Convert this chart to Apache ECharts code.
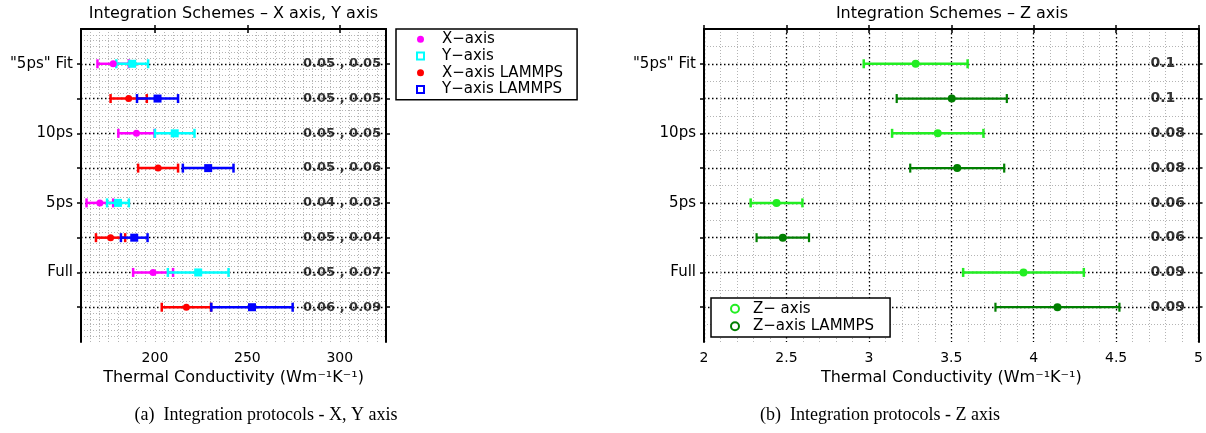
<!DOCTYPE html>
<html>
<head>
<meta charset="utf-8">
<script src="https://cdn.jsdelivr.net/npm/echarts@6/dist/echarts.min.js"></script>
<style>
  html, body { margin: 0; padding: 0; background: #fff; }
  #main { width: 1206px; height: 433px; }
</style>
</head>
<body>
<div id="main"></div>
<script>
// rows are counted from the top, 1..8
var rowNames = ['"5ps" Fit', '', '10ps', '', '5ps', '', 'Full', ''];
var ownRows = [1, 3, 5, 7];
var lmpRows = [2, 4, 6, 8];
var allRows = [1, 2, 3, 4, 5, 6, 7, 8];

// panel (a): X / Y axis, mean and error
var xMean = [177.4, 190.0, 170.2, 199.0];
var xErr = [8.5, 9.8, 7.2, 10.8];
var yMean = [187.7, 210.7, 180.0, 223.4];
var yErr = [8.6, 10.7, 5.9, 16.4];
var xLmpMean = [185.8, 201.7, 176.0, 217.0];
var xLmpErr = [9.8, 10.8, 7.9, 13.3];
var yLmpMean = [201.4, 228.8, 188.8, 252.5];
var yLmpErr = [11.1, 13.7, 7.2, 22.0];
var errTextXY = ['0.05 , 0.05', '0.05 , 0.05', '0.05 , 0.05', '0.05 , 0.06',
                 '0.04 , 0.03', '0.05 , 0.04', '0.05 , 0.07', '0.06 , 0.09'];
var xyTicks = [200, 250, 300];

// panel (b): Z axis
var zMean = [3.284, 3.418, 2.44, 3.938];
var zErr = [0.315, 0.277, 0.157, 0.366];
var zLmpMean = [3.503, 3.536, 2.478, 4.144];
var zLmpErr = [0.334, 0.285, 0.159, 0.376];
var errTextZ = ['0.1', '0.1', '0.08', '0.08', '0.06', '0.06', '0.09', '0.09'];

var FONT = 'DejaVu Sans';
var BLACK_DOT = { color: '#000', width: 1.3, type: [1.5, 2.5] };
var GRAY_DOT = { color: '#b4b4b4', width: 1, type: [1, 2] };
var AXIS_LINE = { show: true, lineStyle: { color: '#000', width: 2 } };
var LIME = '#22ee22';
var DKGREEN = '#007f00';

var chart = echarts.init(document.getElementById('main'));

// horizontal error bar with caps
function errRender(color, lw, cap) {
  return function (params, api) {
    var c = api.value(0), e = api.value(1), r = api.value(2);
    var a = api.coord([c - e, r]);
    var b = api.coord([c + e, r]);
    var st = { stroke: color, lineWidth: lw };
    return {
      type: 'group',
      children: [
        { type: 'line', shape: { x1: a[0], y1: a[1], x2: b[0], y2: b[1] }, style: st },
        { type: 'line', shape: { x1: a[0], y1: a[1] - cap, x2: a[0], y2: a[1] + cap }, style: st },
        { type: 'line', shape: { x1: b[0], y1: b[1] - cap, x2: b[0], y2: b[1] + cap }, style: st }
      ]
    };
  };
}

function errSeries(name, means, errs, rows, color, lw, cap, panel) {
  return {
    name: name, type: 'custom',
    xAxisIndex: panel ? 3 : 0, yAxisIndex: panel ? 2 : 0,
    renderItem: errRender(color, lw, cap),
    encode: { x: 0, y: 2 },
    data: means.map(function (m, i) { return [m, errs[i], rows[i]]; }),
    z: 3, silent: true
  };
}

function dotSeries(name, means, rows, color, symbol, size, panel) {
  return {
    name: name, type: 'scatter',
    xAxisIndex: panel ? 3 : 0, yAxisIndex: panel ? 2 : 0,
    symbol: symbol, symbolSize: size,
    itemStyle: { color: color, opacity: 1 },
    data: means.map(function (m, i) { return [m, rows[i]]; }),
    z: 4, silent: true
  };
}

function textSeries(texts, at, pos, size, panel) {
  return {
    type: 'scatter',
    xAxisIndex: panel ? 3 : 0, yAxisIndex: panel ? 2 : 0,
    symbolSize: 0,
    data: allRows.map(function (r) { return [at, r]; }),
    label: {
      show: true, position: pos, distance: 0,
      fontFamily: FONT, fontWeight: 'bold', fontSize: size, color: '#000',
      formatter: function (p) { return texts[p.dataIndex]; }
    },
    z: 5, silent: true
  };
}

function rowAxis(gi, pos, labels, minorSplit) {
  return {
    type: 'value', gridIndex: gi, position: pos,
    min: 0, max: 9, interval: 1, inverse: true,
    axisLine: AXIS_LINE,
    axisTick: { show: true, length: 4, customValues: allRows, lineStyle: { color: '#000', width: 1.5 } },
    axisLabel: {
      show: labels, margin: 8, fontFamily: FONT, fontSize: 15, color: '#000',
      formatter: function (v) { return (v >= 1 && v <= 8) ? rowNames[v - 1] : ''; }
    },
    splitLine: { show: labels, lineStyle: BLACK_DOT },
    minorTick: { show: false, splitNumber: minorSplit },
    minorSplitLine: { show: labels, lineStyle: GRAY_DOT }
  };
}

var axisName = 'Thermal Conductivity (Wm\u207B\u00B9K\u207B\u00B9)';
var nameStyle = { fontFamily: FONT, fontSize: 16, color: '#000' };

var option = {
  animation: false,
  backgroundColor: '#fff',
  grid: [
    { left: 81, top: 29, width: 305, height: 313 },
    { left: 704, top: 29, width: 496, height: 313 }
  ],
  xAxis: [
    {
      type: 'value', gridIndex: 0, position: 'bottom', min: 160, max: 325,
      axisLine: AXIS_LINE,
      axisTick: { show: true, length: 4, customValues: xyTicks, lineStyle: { color: '#000', width: 1.5 } },
      axisLabel: { customValues: xyTicks, margin: 9, fontFamily: FONT, fontSize: 14, color: '#000' },
      splitLine: { show: false },
      name: axisName, nameLocation: 'middle', nameGap: 21, nameTextStyle: nameStyle
    },
    {
      type: 'value', gridIndex: 0, position: 'top', min: 160, max: 325,
      axisLine: AXIS_LINE,
      axisTick: { show: true, length: 4, customValues: xyTicks, lineStyle: { color: '#000', width: 1.5 } },
      axisLabel: { show: false },
      splitLine: { show: false }
    },
    {
      type: 'value', gridIndex: 0, position: 'bottom', min: 160, max: 325, interval: 5,
      axisLine: { show: false }, axisTick: { show: false }, axisLabel: { show: false },
      splitLine: { show: true, lineStyle: GRAY_DOT }
    },
    {
      type: 'value', gridIndex: 1, position: 'bottom', min: 2, max: 5, interval: 0.5,
      axisLine: AXIS_LINE,
      axisTick: { show: true, length: 4, lineStyle: { color: '#000', width: 1.5 } },
      axisLabel: { margin: 9, fontFamily: FONT, fontSize: 14, color: '#000' },
      splitLine: { show: true, lineStyle: BLACK_DOT },
      minorTick: { show: false, splitNumber: 5 },
      minorSplitLine: { show: true, lineStyle: GRAY_DOT },
      name: axisName, nameLocation: 'middle', nameGap: 21, nameTextStyle: nameStyle
    },
    {
      type: 'value', gridIndex: 1, position: 'top', min: 2, max: 5, interval: 0.5,
      axisLine: AXIS_LINE,
      axisTick: { show: true, length: 4, lineStyle: { color: '#000', width: 1.5 } },
      axisLabel: { show: false },
      splitLine: { show: false }
    }
  ],
  yAxis: [
    rowAxis(0, 'left', true, 6),
    rowAxis(0, 'right', false, 6),
    rowAxis(1, 'left', true, 2),
    rowAxis(1, 'right', false, 2)
  ],
  legend: [
    {
      orient: 'vertical', left: 396, top: 29,
      padding: [2, 14, 2, 20], itemGap: 0, itemWidth: 7, itemHeight: 7,
      backgroundColor: '#fff', borderColor: '#000', borderWidth: 1.5,
      selectedMode: false,
      textStyle: { fontFamily: FONT, fontSize: 15, color: '#000', lineHeight: 16.7, padding: [0, 0, 0, 13] },
      data: [
        { name: 'X\u2212axis', icon: 'circle', itemStyle: { color: '#ff00ff', borderWidth: 0 } },
        { name: 'Y\u2212axis', icon: 'rect', itemStyle: { color: '#fff', borderColor: '#00ffff', borderWidth: 2 } },
        { name: 'X\u2212axis LAMMPS', icon: 'circle', itemStyle: { color: '#ff0000', borderWidth: 0 } },
        { name: 'Y\u2212axis LAMMPS', icon: 'rect', itemStyle: { color: '#fff', borderColor: '#0000ff', borderWidth: 2 } }
      ]
    },
    {
      orient: 'vertical', left: 711, top: 298, z: 10,
      padding: [2, 16, 2, 19], itemGap: 0, itemWidth: 8, itemHeight: 8,
      backgroundColor: '#fff', borderColor: '#000', borderWidth: 1.5,
      selectedMode: false,
      textStyle: { fontFamily: FONT, fontSize: 15, color: '#000', lineHeight: 17.5, padding: [0, 0, 0, 9] },
      data: [
        { name: 'Z\u2212 axis', icon: 'circle', itemStyle: { color: '#fff', borderColor: LIME, borderWidth: 2 } },
        { name: 'Z\u2212axis LAMMPS', icon: 'circle', itemStyle: { color: '#fff', borderColor: DKGREEN, borderWidth: 2 } }
      ]
    }
  ],
  graphic: [
    { type: 'text', x: 233.5, y: 14, style: { text: 'Integration Schemes \u2013 X axis, Y axis', font: '16px "DejaVu Sans"', fill: '#000', textAlign: 'center', textVerticalAlign: 'middle' } },
    { type: 'text', x: 952, y: 14, style: { text: 'Integration Schemes \u2013 Z axis', font: '16px "DejaVu Sans"', fill: '#000', textAlign: 'center', textVerticalAlign: 'middle' } },
    { type: 'text', x: 266, y: 415, style: { text: '(a)  Integration protocols - X, Y axis', font: '18px "Liberation Serif"', fill: '#000', textAlign: 'center', textVerticalAlign: 'middle' } },
    { type: 'text', x: 880, y: 415, style: { text: '(b)  Integration protocols - Z axis', font: '18px "Liberation Serif"', fill: '#000', textAlign: 'center', textVerticalAlign: 'middle' } }
  ],
  series: [
    errSeries('X\u2212axis', xMean, xErr, ownRows, '#ff00ff', 2.5, 4.5, 0),
    dotSeries('X\u2212axis', xMean, ownRows, '#ff00ff', 'circle', 7, 0),
    errSeries('Y\u2212axis', yMean, yErr, ownRows, '#00ffff', 2.5, 4.5, 0),
    dotSeries('Y\u2212axis', yMean, ownRows, '#00ffff', 'rect', 8, 0),
    errSeries('X\u2212axis LAMMPS', xLmpMean, xLmpErr, lmpRows, '#ff0000', 2.5, 4.5, 0),
    dotSeries('X\u2212axis LAMMPS', xLmpMean, lmpRows, '#ff0000', 'circle', 7, 0),
    errSeries('Y\u2212axis LAMMPS', yLmpMean, yLmpErr, lmpRows, '#0000ff', 2.5, 4.5, 0),
    dotSeries('Y\u2212axis LAMMPS', yLmpMean, lmpRows, '#0000ff', 'rect', 8, 0),
    textSeries(errTextXY, 322.4, 'left', 13, 0),

    errSeries('Z\u2212 axis', zMean, zErr, ownRows, LIME, 2.5, 4.5, 1),
    dotSeries('Z\u2212 axis', zMean, ownRows, LIME, 'circle', 8, 1),
    errSeries('Z\u2212axis LAMMPS', zLmpMean, zLmpErr, lmpRows, DKGREEN, 2.2, 4.5, 1),
    dotSeries('Z\u2212axis LAMMPS', zLmpMean, lmpRows, DKGREEN, 'circle', 8, 1),
    textSeries(errTextZ, 4.708, 'right', 14, 1)
  ]
};

chart.setOption(option);
</script>
</body>
</html>
